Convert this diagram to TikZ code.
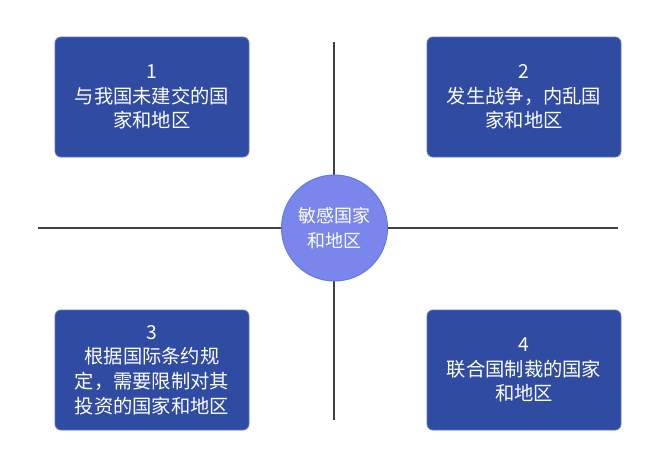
\documentclass[tikz,border=0pt]{standalone}
\usepackage{fontspec}
\setmainfont{Noto Sans CJK SC}
\definecolor{boxblue}{HTML}{2F4BA2}
\definecolor{boxedge}{HTML}{5F74C4}
\definecolor{circfill}{HTML}{7A86EC}
\definecolor{circedge}{HTML}{6079E6}
\definecolor{axis}{HTML}{404040}
\tikzset{
  infobox/.style={draw=boxedge, line width=0.8pt, fill=boxblue, rounded corners=6pt,
    minimum width=194pt, minimum height=120pt, inner sep=0pt, text=white,
    align=center, font=\fontsize{19.3}{24.7}\selectfont},
  hub/.style={circle, draw=circedge, line width=1pt, fill=circfill, minimum size=106pt,
    inner sep=0pt, text=white, align=center, font=\fontsize{18}{24.5}\selectfont},
  axisline/.style={draw=axis, line width=2pt}
}
\begin{document}
\begin{tikzpicture}[x=1pt,y=-1pt]
\useasboundingbox (0,0) rectangle (657,466);
\coordinate (L) at (38,228);
\coordinate (R) at (618,228);
\coordinate (T) at (333.5,42);
\coordinate (B) at (333.5,420);
\draw[axisline] (L) -- (R);
\draw[axisline] (T) -- (B);
\node[infobox] (b1) at (152,97) {1\\与我国未建交的国\\家和地区};
\node[infobox] (b2) at (524,97) {2\\发生战争，内乱国\\家和地区};
\node[infobox] (b3) at (152,370) {3\\根据国际条约规\\定，需要限制对其\\投资的国家和地区};
\node[infobox] (b4) at (524,370) {4\\联合国制裁的国家\\和地区};
\node[hub] (c) at (334.5,228) {敏感国家\\和地区};
\end{tikzpicture}
\end{document}
